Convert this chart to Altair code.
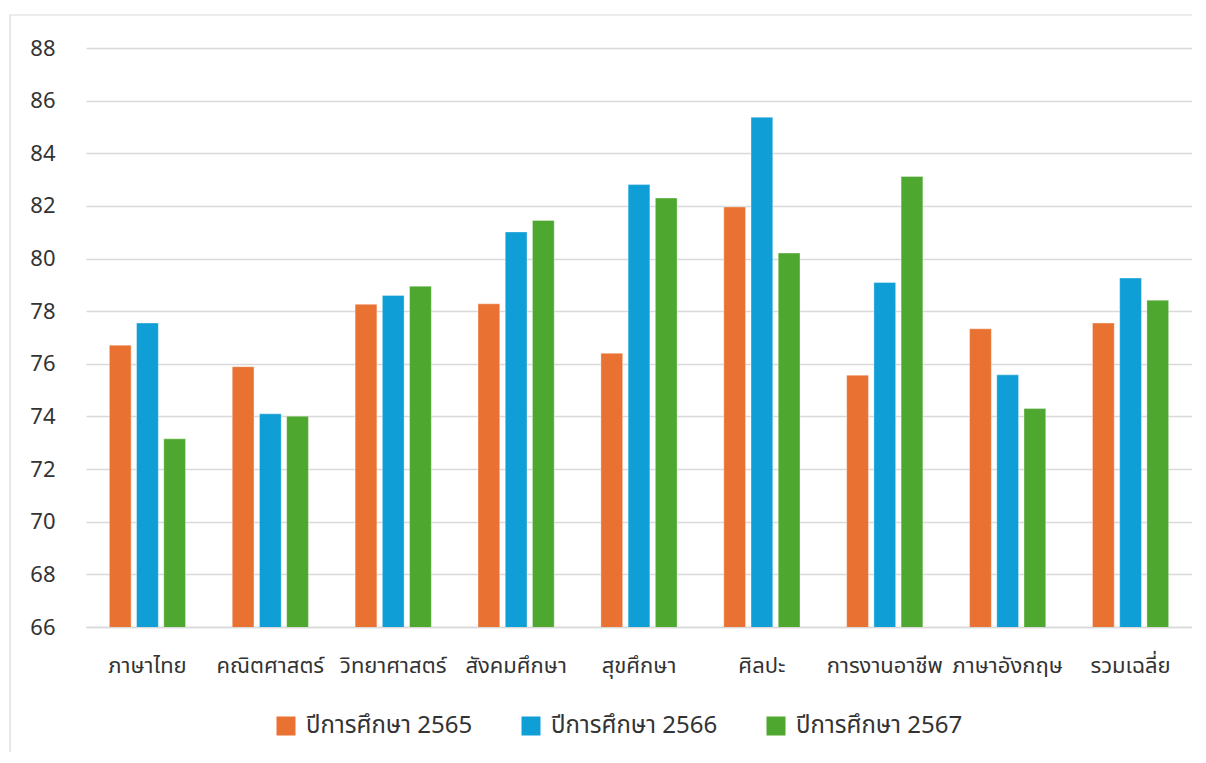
import altair as alt
import pandas as pd

subjects = ["ภาษาไทย", "คณิตศาสตร์", "วิทยาศาสตร์", "สังคมศึกษา", "สุขศึกษา",
            "ศิลปะ", "การงานอาชีพ", "ภาษาอังกฤษ", "รวมเฉลี่ย"]
series = ["ปีการศึกษา 2565", "ปีการศึกษา 2566", "ปีการศึกษา 2567"]
y2565 = [76.71, 75.89, 78.26, 78.28, 76.40, 81.96, 75.57, 77.33, 77.55]
y2566 = [77.55, 74.10, 78.60, 81.01, 82.81, 85.37, 79.09, 75.58, 79.26]
y2567 = [73.15, 74.01, 78.95, 81.45, 82.30, 80.21, 83.12, 74.30, 78.42]
colors = ["#E97132", "#0F9ED5", "#4EA72E"]
y_ticks = list(range(66, 89, 2))

rows = []
for vals, s in zip([y2565, y2566, y2567], series):
    for subj, v in zip(subjects, vals):
        rows.append({"subject": subj, "series": s, "value": v})
df = pd.DataFrame(rows)

font = "Noto Sans Thai, Noto Sans, sans-serif"

bars = alt.Chart(df).mark_bar(clip=True, stroke="white", strokeWidth=0.6, strokeOpacity=0.6).encode(
    x=alt.X("subject:N", sort=subjects, title=None,
            scale=alt.Scale(paddingInner=0.38, paddingOuter=0.19),
            axis=alt.Axis(labelAngle=0, labelFontSize=22, labelPadding=28, ticks=False,
                          domain=True, domainColor="#D9D9D9", domainWidth=1.5,
                          labelColor="#333333", labelFont=font, labelLimit=300)),
    xOffset=alt.XOffset("series:N", sort=series,
                        scale=alt.Scale(paddingInner=0.2, paddingOuter=0)),
    y=alt.Y("value:Q", title=None,
            scale=alt.Scale(domain=[66, 88], nice=False, zero=False),
            axis=alt.Axis(values=y_ticks, labelFontSize=22, labelPadding=31, ticks=False,
                          domain=False, grid=True, gridColor="#D9D9D9", gridWidth=1.5,
                          labelColor="#333333", labelFont=font)),
    color=alt.Color("series:N", sort=series,
                    scale=alt.Scale(domain=series, range=colors),
                    legend=alt.Legend(title=None, orient="none", direction="horizontal",
                                      legendX=188, legendY=666,
                                      symbolType="square",
                                      symbolSize=361, symbolStrokeWidth=0,
                                      labelFontSize=24, labelColor="#333333",
                                      labelFont=font, columnPadding=46, labelLimit=400,
                                      symbolOffset=0, labelOffset=8)),
)

# light frame around the whole chart area (decorative)
frame = alt.Chart(pd.DataFrame({"k": [0]})).mark_rect(
    fill=None, stroke="#D9D9D9", strokeWidth=1.2
).encode(
    x=alt.value(-76), x2=alt.value(1140),
    y=alt.value(-33), y2=alt.value(760),
)

chart = alt.layer(frame, bars).properties(
    width=1106, height=579,
    autosize=alt.AutoSizeParams(type="none"),
    padding={"left": 78, "top": 40, "right": 0, "bottom": 125},
).configure_view(stroke=None)

chart.save("out.html", embed_options={"renderer": "svg", "actions": False})
